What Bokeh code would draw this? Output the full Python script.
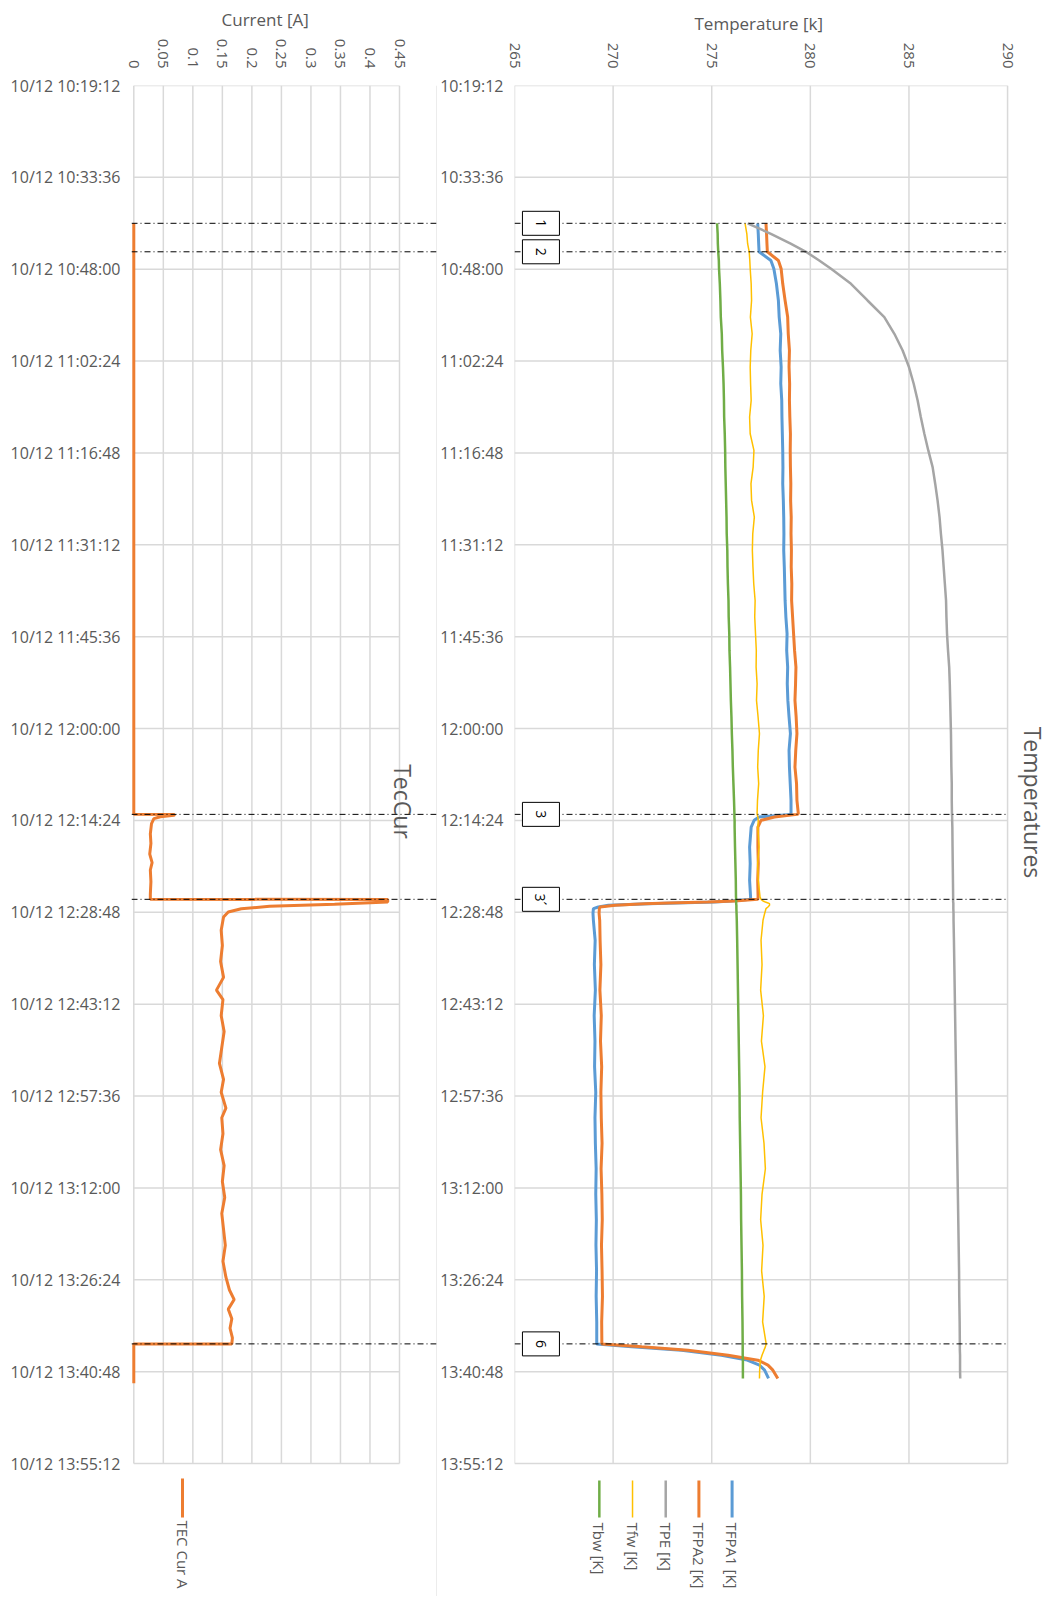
import math
from bokeh.plotting import figure
from bokeh.models import ColumnDataSource, Range1d, FixedTicker, Label, Span
from bokeh.layouts import row
from bokeh.core.properties import value
from bokeh.embed import file_html
from bokeh.resources import INLINE

# ---------------- data ----------------
DATE = "10/12"
TIME_TICKS = ["10:19:12", "10:33:36", "10:48:00", "11:02:24", "11:16:48", "11:31:12",
              "11:45:36", "12:00:00", "12:14:24", "12:28:48", "12:43:12", "12:57:36",
              "13:12:00", "13:26:24", "13:40:48", "13:55:12"]
CUR_TICKS = [0, 0.05, 0.1, 0.15, 0.2, 0.25, 0.3, 0.35, 0.4, 0.45]
CUR_TICK_LABELS = ["0", "0.05", "0.1", "0.15", "0.2", "0.25", "0.3", "0.35", "0.4", "0.45"]
TEMP_TICKS = [265, 270, 275, 280, 285, 290]

EVENT_TIMES = ["10:40:48", "10:45:16", "12:13:27", "12:26:46", "13:36:27"]
EVENT_LABELS = ["1", "2", "3", "3\u00b4", "6"]

TEC_TIME = ["10:40:48", "12:13:27", "12:13:28", "12:13:36", "12:13:50", "12:14:07", "12:14:54",
            "12:16:30", "12:18:00", "12:19:40", "12:21:00", "12:22:10", "12:24:00", "12:26:00",
            "12:26:46", "12:26:47", "12:27:11", "12:27:22", "12:27:33", "12:27:52", "12:28:14",
            "12:28:45", "12:29:32", "12:31:37", "12:34:00", "12:36:30", "12:39:00", "12:41:00",
            "12:42:30", "12:45:00", "12:47:30", "12:50:00", "12:52:30", "12:55:00", "12:57:00",
            "12:59:30", "13:01:00", "13:03:30", "13:06:00", "13:08:30", "13:11:00", "13:13:30",
            "13:16:00", "13:18:30", "13:21:00", "13:23:30", "13:26:00", "13:28:00", "13:29:30",
            "13:31:00", "13:32:30", "13:34:00", "13:35:30", "13:36:27", "13:36:28", "13:42:37"]
TEC_CUR = [0.0, 0.0, 0.069, 0.068, 0.045, 0.034, 0.030,
           0.028, 0.029, 0.027, 0.031, 0.028, 0.029, 0.028,
           0.028, 0.430, 0.430, 0.380, 0.340, 0.230, 0.182,
           0.160, 0.152, 0.148, 0.150, 0.147, 0.152, 0.140,
           0.151, 0.148, 0.153, 0.149, 0.145, 0.152, 0.148,
           0.156, 0.149, 0.151, 0.147, 0.153, 0.150, 0.154,
           0.149, 0.152, 0.155, 0.151, 0.156, 0.162, 0.170,
           0.160, 0.166, 0.163, 0.167, 0.166, 0.0, 0.0]

TEMP_TIME = ["10:40:48", "10:42:27", "10:44:00", "10:45:16", "10:46:38", "10:47:56", "10:50:17", "10:52:54", "10:55:30", "10:58:07",
             "11:00:44", "11:03:20", "11:05:57", "11:08:34", "11:11:10", "11:13:47", "11:16:24", "11:19:01", "11:21:37", "11:24:14",
             "11:26:51", "11:29:28", "11:32:04", "11:34:41", "11:37:18", "11:39:55", "11:42:31", "11:45:08", "11:47:45", "11:50:22",
             "11:52:58", "11:55:35", "11:58:11", "12:00:48", "12:03:25", "12:06:02", "12:08:38", "12:11:15", "12:13:20", "12:13:27",
             "12:13:52", "12:14:23", "12:15:26", "12:18:34", "12:21:10", "12:23:47", "12:26:24", "12:26:46", "12:27:02", "12:27:11",
             "12:27:20", "12:27:27", "12:27:42", "12:27:58", "12:28:14", "12:29:01", "12:30:03", "12:33:11", "12:37:00", "12:41:00",
             "12:45:00", "12:49:00", "12:53:00", "12:57:00", "13:01:00", "13:05:00", "13:09:00", "13:13:00", "13:17:00", "13:21:00",
             "13:25:00", "13:29:00", "13:33:00", "13:36:27", "13:36:55", "13:37:26", "13:38:13", "13:39:00", "13:39:47", "13:40:34",
             "13:41:52"]
TBW = [275.27, 275.30, 275.31, 275.33, 275.36, 275.37, 275.41, 275.44, 275.46, 275.51,
       275.53, 275.57, 275.60, 275.62, 275.63, 275.66, 275.68, 275.69, 275.71, 275.73,
       275.75, 275.76, 275.79, 275.80, 275.82, 275.85, 275.86, 275.89, 275.90, 275.93,
       275.95, 275.97, 276.00, 276.02, 276.05, 276.07, 276.10, 276.13, 276.15, 276.15,
       276.15, 276.16, 276.16, 276.18, 276.20, 276.22, 276.23, 276.24, 276.24, 276.24,
       276.24, 276.24, 276.25, 276.25, 276.25, 276.26, 276.27, 276.29, 276.31, 276.33,
       276.35, 276.37, 276.39, 276.41, 276.42, 276.44, 276.46, 276.48, 276.49, 276.51,
       276.53, 276.54, 276.56, 276.57, 276.57, 276.57, 276.57, 276.58, 276.58, 276.58,
       276.58]
TFW = [276.69, 276.78, 276.82, 276.90, 276.93, 276.95, 277.00, 277.02, 276.96, 277.05,
       276.98, 276.95, 276.97, 277.00, 276.92, 276.95, 277.14, 277.10, 276.99, 277.02,
       277.16, 277.08, 277.06, 277.09, 277.13, 277.20, 277.18, 277.22, 277.26, 277.25,
       277.30, 277.27, 277.35, 277.42, 277.36, 277.33, 277.38, 277.32, 277.30, 277.30,
       277.34, 277.36, 277.34, 277.40, 277.33, 277.36, 277.45, 277.50, 277.60, 277.72,
       277.85, 277.93, 277.93, 277.85, 277.75, 277.68, 277.60, 277.50, 277.55, 277.48,
       277.62, 277.52, 277.70, 277.58, 277.50, 277.65, 277.72, 277.55, 277.48, 277.60,
       277.53, 277.66, 277.58, 277.76, 277.72, 277.65, 277.55, 277.47, 277.45, 277.43,
       277.42]
TPE = [276.82, 278.00, 279.00, 279.78, 280.45, 281.05, 282.06, 282.90, 283.75, 284.26,
       284.68, 285.00, 285.24, 285.44, 285.60, 285.78, 285.98, 286.20, 286.33, 286.45,
       286.55, 286.62, 286.70, 286.76, 286.82, 286.88, 286.90, 286.93, 286.98, 287.04,
       287.07, 287.09, 287.11, 287.13, 287.14, 287.15, 287.17, 287.17, 287.18, 287.18,
       287.19, 287.19, 287.20, 287.21, 287.22, 287.23, 287.24, 287.24, 287.24, 287.24,
       287.25, 287.25, 287.25, 287.25, 287.25, 287.26, 287.26, 287.28, 287.30, 287.32,
       287.34, 287.36, 287.38, 287.40, 287.42, 287.44, 287.46, 287.48, 287.50, 287.52,
       287.54, 287.55, 287.57, 287.58, 287.58, 287.58, 287.59, 287.59, 287.59, 287.59,
       287.60]
TFPA1 = [277.33, 277.36, 277.38, 277.40, 278.00, 278.15, 278.28, 278.38, 278.42, 278.50,
         278.47, 278.52, 278.50, 278.55, 278.56, 278.58, 278.60, 278.61, 278.60, 278.63,
         278.65, 278.66, 278.65, 278.68, 278.70, 278.72, 278.76, 278.82, 278.80, 278.85,
         278.83, 278.86, 278.92, 278.99, 278.92, 278.94, 278.98, 279.02, 279.02, 279.00,
         277.40, 277.15, 277.00, 276.92, 276.95, 276.92, 276.97, 276.97, 276.00, 275.15,
         273.20, 271.80, 269.76, 269.25, 269.00, 268.98, 269.00, 269.09, 269.05, 269.10,
         269.04, 269.08, 269.06, 269.12, 269.08, 269.10, 269.14, 269.12, 269.15, 269.13,
         269.16, 269.14, 269.17, 269.17, 270.94, 273.47, 275.49, 276.80, 277.42, 277.68,
         277.88]
TFPA2 = [277.75, 277.78, 277.80, 277.82, 278.38, 278.52, 278.60, 278.72, 278.85, 278.88,
         278.94, 278.92, 278.95, 278.94, 278.96, 278.99, 278.98, 278.99, 279.01, 279.00,
         279.03, 279.02, 279.04, 279.03, 279.06, 279.05, 279.10, 279.15, 279.20, 279.27,
         279.25, 279.22, 279.28, 279.32, 279.26, 279.22, 279.30, 279.32, 279.39, 279.33,
         278.18, 277.50, 277.34, 277.34, 277.36, 277.33, 277.35, 277.34, 276.16, 274.80,
         272.80, 271.60, 270.10, 269.34, 269.30, 269.29, 269.32, 269.34, 269.38, 269.33,
         269.40, 269.36, 269.42, 269.38, 269.40, 269.44, 269.39, 269.43, 269.45, 269.41,
         269.44, 269.46, 269.42, 269.43, 271.45, 273.80, 275.83, 277.34, 277.85, 278.10,
         278.35]

SERIES_NAMES = ["TFPA1 [K]", "TFPA2 [K]", "TPE [K]", "Tfw [K]", "Tbw [K]"]
SERIES_VALUES = [TFPA1, TFPA2, TPE, TFW, TBW]
SERIES_COLORS = ["#5B9BD5", "#ED7D31", "#A5A5A5", "#FFC000", "#70AD47"]
SERIES_WIDTHS = [3, 3, 2.5, 1.5, 2.5]
CUR_NAME = "TEC Cur A"
CUR_COLOR = "#ED7D31"

# ---------------- helpers / geometry (page pixels) ----------------
def secs(hms):
    h, m, s = (int(v) for v in hms.split(":"))
    return h * 3600 + m * 60 + s

FONT = "Open Sans"
TXT = "#595959"
GRID = "#d9d9d9"

L_FR_L = 131        # left frame left edge
L_ZERO, L_MAX = 133.3, 399.0   # pixel of 0 A and 0.45 A
DIV_X = 437         # divider / left frame right edge
R_FR_L, R_FR_R = 513, 1007     # pixel of 265 K and 290 K
RIGHT_END = 1048
FR_T, FR_B = 85, 1463          # pixel of first / last time tick
BOTTOM = 1596

T0 = secs(TIME_TICKS[0])
T1 = secs(TIME_TICKS[-1])
SPP = (T1 - T0) / (FR_B - FR_T)   # seconds per pixel

def t_at(py):
    return T0 + (py - FR_T) * SPP

A_PER_PX = (CUR_TICKS[-1] - CUR_TICKS[0]) / (L_MAX - L_ZERO)
K_PER_PX = (TEMP_TICKS[-1] - TEMP_TICKS[0]) / (R_FR_R - R_FR_L)

def cx_at(px):
    return CUR_TICKS[0] + (px - L_ZERO) * A_PER_PX

def tx_at(px):
    return TEMP_TICKS[0] + (px - R_FR_L) * K_PER_PX

tick_secs = [secs(t) for t in TIME_TICKS]
ev_secs = [secs(t) for t in EVENT_TIMES]
y_range_l = Range1d(t_at(BOTTOM), T0)
y_range_r = Range1d(t_at(BOTTOM), T0)


def style_main(p, title_offset):
    p.background_fill_color = "white"
    p.border_fill_color = "white"
    p.outline_line_color = None
    p.xgrid.visible = False
    p.ygrid.visible = False
    for ax in p.axis:
        ax.axis_line_color = None
        ax.major_tick_line_color = None
        ax.minor_tick_line_color = None
        ax.major_tick_out = 0
        ax.major_tick_in = 0
        ax.major_label_text_font = FONT
        ax.major_label_text_color = TXT
    p.xaxis.major_label_text_font_size = "15px"
    p.xaxis.major_label_orientation = -math.pi / 2
    p.yaxis.major_label_text_font_size = "16px"
    p.yaxis.ticker = FixedTicker(ticks=tick_secs)
    p.title.align = "left"
    p.title.offset = title_offset
    p.title.text_font = FONT
    p.title.text_font_size = "17px"
    p.title.text_font_style = "normal"
    p.title.text_color = TXT


def grid_segments(p, xticks, x0, x1):
    gx = ColumnDataSource(dict(x=xticks, y0=[T0] * len(xticks), y1=[T1] * len(xticks)))
    p.segment(x0="x", y0="y0", x1="x", y1="y1", source=gx, line_color=GRID, line_width=1.5)
    gy = ColumnDataSource(dict(y=tick_secs, x0=[x0] * len(tick_secs), x1=[x1] * len(tick_secs)))
    p.segment(x0="x0", y0="y", x1="x1", y1="y", source=gy, line_color=GRID, line_width=1.5)


# ---------------- left panel: TecCur ----------------
pl = figure(width=DIV_X, height=BOTTOM, title="Current [A]",
            x_range=Range1d(cx_at(L_FR_L), cx_at(DIV_X)), y_range=y_range_l,
            x_axis_location="above",
            min_border_left=L_FR_L, min_border_right=0,
            min_border_top=FR_T, min_border_bottom=0,
            toolbar_location=None, output_backend="svg")
style_main(pl, 221 - L_FR_L)
pl.xaxis.ticker = FixedTicker(ticks=CUR_TICKS)
pl.xaxis.major_label_overrides = {v: s for v, s in zip(CUR_TICKS, CUR_TICK_LABELS)}
pl.xaxis.major_label_standoff = 17
pl.yaxis.major_label_overrides = {s: DATE + " " + lab for s, lab in zip(tick_secs, TIME_TICKS)}
pl.yaxis.major_label_standoff = 11

grid_segments(pl, CUR_TICKS, CUR_TICKS[0], CUR_TICKS[-1])
pl.add_layout(Span(location=cx_at(DIV_X - 0.5), dimension="height", line_color=GRID, line_width=1))

cur_src = ColumnDataSource(dict(t=[secs(t) for t in TEC_TIME], a=TEC_CUR))
pl.line(x="a", y="t", source=cur_src, line_color=CUR_COLOR, line_width=3)

ev_l = ColumnDataSource(dict(t=ev_secs, x0=[cx_at(L_FR_L)] * len(ev_secs),
                             x1=[cx_at(DIV_X)] * len(ev_secs)))
pl.segment(x0="x0", y0="t", x1="x1", y1="t", source=ev_l, line_color="black",
           line_width=1, line_dash="6 3 1 3")
pl.add_layout(Label(x=cx_at(402), y=t_at(801), text="TecCur", angle=-math.pi / 2,
                    text_align="center", text_baseline="middle", text_font=FONT,
                    text_font_size="23px", text_color=TXT))

# legend (left)
lx = cx_at(182)
pl.segment(x0=[lx], y0=[t_at(1478)], x1=[lx], y1=[t_at(1517)], line_color=CUR_COLOR, line_width=3)
pl.text(x=[lx], y=[t_at(1520)], text=[CUR_NAME], angle=-math.pi / 2, text_align="left",
        text_baseline="middle", text_font=value(FONT), text_font_size="15px", text_color=TXT)

# ---------------- right panel: Temperatures ----------------
pr = figure(width=RIGHT_END - DIV_X, height=BOTTOM, title="Temperature [k]",
            x_range=Range1d(tx_at(R_FR_L), tx_at(RIGHT_END)), y_range=y_range_r,
            x_axis_location="above",
            min_border_left=R_FR_L - DIV_X, min_border_right=0,
            min_border_top=FR_T, min_border_bottom=0,
            toolbar_location=None, output_backend="svg")
style_main(pr, 693 - R_FR_L)
pr.xaxis.ticker = FixedTicker(ticks=TEMP_TICKS)
pr.xaxis.major_label_standoff = 17
pr.yaxis.major_label_overrides = {s: lab for s, lab in zip(tick_secs, TIME_TICKS)}
pr.yaxis.major_label_standoff = 11

grid_segments(pr, TEMP_TICKS, TEMP_TICKS[0], TEMP_TICKS[-1])

temp_t = [secs(t) for t in TEMP_TIME]
for name, vals, col, w in zip(SERIES_NAMES, SERIES_VALUES, SERIES_COLORS, SERIES_WIDTHS):
    src = ColumnDataSource(dict(t=temp_t, v=vals))
    pr.line(x="v", y="t", source=src, line_color=col, line_width=w)

ev_r = ColumnDataSource(dict(t=ev_secs, x0=[tx_at(R_FR_L)] * len(ev_secs),
                             x1=[TEMP_TICKS[-1]] * len(ev_secs),
                             bx=[tx_at(539.5)] * len(ev_secs), lab=EVENT_LABELS))
pr.segment(x0="x0", y0="t", x1="x1", y1="t", source=ev_r, line_color="black",
           line_width=1, line_dash="6 3 1 3")
pr.rect(x="bx", y="t", width=37, height=24, width_units="screen", height_units="screen",
        source=ev_r, fill_color="white", line_color="black", line_width=1)
pr.text(x="bx", y="t", text="lab", source=ev_r, angle=-math.pi / 2,
        text_align="center", text_baseline="middle", text_font=value(FONT),
        text_font_size="14px", text_color="black")
pr.add_layout(Label(x=tx_at(1032), y=t_at(802), text="Temperatures", angle=-math.pi / 2,
                    text_align="center", text_baseline="middle", text_font=FONT,
                    text_font_size="23px", text_color=TXT))

# legend (right): Tbw, Tfw, TPE, TFPA2, TFPA1 from left to right
for k, idx in enumerate([4, 3, 2, 1, 0]):
    xx = tx_at(598 + k * 33.25)
    pr.segment(x0=[xx], y0=[t_at(1480)], x1=[xx], y1=[t_at(1517)],
               line_color=SERIES_COLORS[idx], line_width=SERIES_WIDTHS[idx])
    pr.text(x=[xx], y=[t_at(1522)], text=[SERIES_NAMES[idx]], angle=-math.pi / 2,
            text_align="left", text_baseline="middle", text_font=value(FONT),
            text_font_size="15px", text_color=TXT)

layout = row(pl, pr)

with open("out.html", "w") as fh:
    fh.write(file_html(layout, INLINE, title="TecCur / Temperatures"))
